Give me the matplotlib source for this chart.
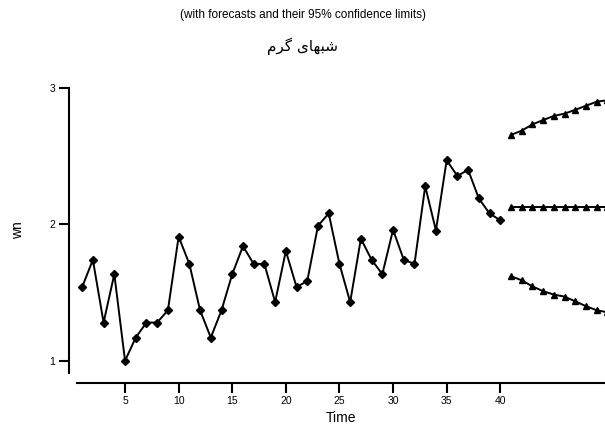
import matplotlib.pyplot as plt

# observed series wn, t = 1..40
time = list(range(1, 41))
wn = [1.54, 1.74, 1.28, 1.635, 1.00, 1.17, 1.28, 1.28, 1.37, 1.91,
      1.71, 1.37, 1.17, 1.37, 1.635, 1.84, 1.71, 1.71, 1.43, 1.805,
      1.54, 1.585, 1.99, 2.08, 1.71, 1.43, 1.895, 1.74, 1.635, 1.96,
      1.74, 1.71, 2.28, 1.955, 2.47, 2.355, 2.40, 2.19, 2.08, 2.03]

# forecasts and 95% limits, t = 41..50
fc_time = list(range(41, 51))
forecast = [2.13] * 10
upper = [2.656, 2.687, 2.733, 2.765, 2.795, 2.812, 2.84, 2.87, 2.90, 2.91]
lower = [1.62, 1.59, 1.545, 1.51, 1.485, 1.47, 1.435, 1.40, 1.37, 1.355]

xticks = [5, 10, 15, 20, 25, 30, 35, 40]
yticks = [1, 2, 3]

# Persian title in presentation forms, visual order
persian_title = "\uFEE1\uFEAE\uFB94 \uFBFC\uFE8E\uFEEC\uFE92\uFEB7"

plt.rcParams['font.family'] = ['Liberation Sans', 'DejaVu Sans']

fig = plt.figure(figsize=(6.05, 4.29), dpi=100)
ax = fig.add_axes([77 / 605, 56 / 429, 528 / 605, 285 / 429])

ax.plot(time, wn, color='black', lw=1.4, marker='D', ms=4.2, clip_on=False)
ax.plot(fc_time, forecast, color='black', lw=1.4, marker='^', ms=4.5)
ax.plot(fc_time, upper, color='black', lw=1.4, marker='^', ms=4.5)
ax.plot(fc_time, lower, color='black', lw=1.4, marker='^', ms=4.5)

ax.set_xlim(0.52, 49.77)
ax.set_ylim(0.91, 3.0)
ax.set_xticks(xticks)
ax.set_yticks(yticks)

for s in ['top', 'right']:
    ax.spines[s].set_visible(False)
ax.spines['left'].set_position(('outward', 6))
ax.spines['bottom'].set_position(('outward', 7))
ax.spines['left'].set_linewidth(1.5)
ax.spines['bottom'].set_linewidth(1.5)
ax.tick_params(width=1.5, length=7.5, labelsize=7.5, pad=2)

ax.set_xlabel("Time", fontsize=10, labelpad=4)
ax.set_ylabel("wn", fontsize=10, labelpad=18)

fig.text(0.5, 1 - 15 / 429, "(with forecasts and their 95% confidence limits)",
         ha='center', va='center', fontsize=8.5)
fig.text(0.5, 1 - 46 / 429, persian_title, ha='center', va='center',
         fontsize=11, family=['DejaVu Sans'])

fig.savefig("out.png", dpi=100)
